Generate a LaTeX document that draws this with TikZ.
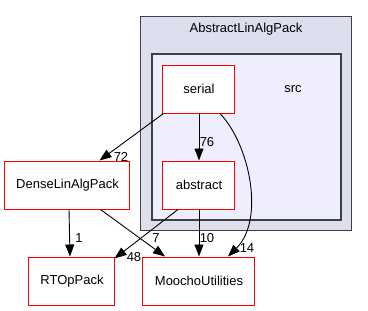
\documentclass[tikz,border=0pt]{standalone}
\usepackage{fontspec}
\setmainfont{Liberation Sans}
\usetikzlibrary{arrows.meta}
\definecolor{outerfill}{HTML}{DDDFEE}
\definecolor{innerfill}{HTML}{EEEEFF}
\definecolor{clusterline}{HTML}{404040}
\begin{document}
\begin{tikzpicture}[x=1pt,y=-1pt,
  font=\fontsize{13}{15}\selectfont,
  dirbox/.style={draw=red, fill=white, line width=1pt, minimum height=48pt, inner sep=0pt},
  dep/.style={draw=black, line width=0.9pt, -{Triangle[length=12pt,width=9pt]}},
  lbl/.style={inner sep=0pt, font=\fontsize{13}{15}\selectfont}]
\useasboundingbox (0,0) rectangle (368,311);
\fill[white] (0,0) rectangle (368,311);
% clusters
\draw[clusterline, fill=outerfill, line width=1pt] (141,16) rectangle (352,230);
\node (outerlbl) at (246,29) {AbstractLinAlgPack};
\draw[clusterline, fill=innerfill, line width=1.3pt] (152,54) rectangle (341,220);
\node (srclbl) at (293,89) {src};
% nodes
\node[dirbox, minimum width=72pt] (serial) at (199,89) {serial};
\node[dirbox, minimum width=72pt] (abstract) at (199,185) {abstract};
\node[dirbox, minimum width=125pt] (dense) at (67.5,185) {DenseLinAlgPack};
\node[dirbox, minimum width=86pt] (rtop) at (72,281) {RTOpPack};
\node[dirbox, minimum width=112pt] (moocho) at (199,281) {MoochoUtilities};
% edges
\draw[dep] ([xshift=1pt]serial.south west) -- ([xshift=32pt]dense.north);
\node[lbl] (l72) at (121,157) {72};
\draw[dep] (serial.south) -- (abstract.north);
\node[lbl] (l76) at (207,142) {76};
\draw[dep] ([xshift=21pt]serial.south) .. controls (250,145) and (265,220) .. ([xshift=29pt]moocho.north);
\node[lbl] (l14) at (247,248) {14};
\draw[dep] ([xshift=1.5pt]dense.south) -- ([xshift=-2pt]rtop.north);
\node[lbl] (l1) at (79,238) {1};
\draw[dep] ([xshift=33pt]dense.south) -- ([xshift=-34pt]moocho.north);
\node[lbl] (l7) at (156,238) {7};
\draw[dep] ([xshift=-21pt]abstract.south) -- ([xshift=-1pt,yshift=-2pt]rtop.north east);
\node[lbl] (l48) at (134,257) {48};
\draw[dep] (abstract.south) -- (moocho.north);
\node[lbl] (l10) at (207,238) {10};
\end{tikzpicture}
\end{document}
